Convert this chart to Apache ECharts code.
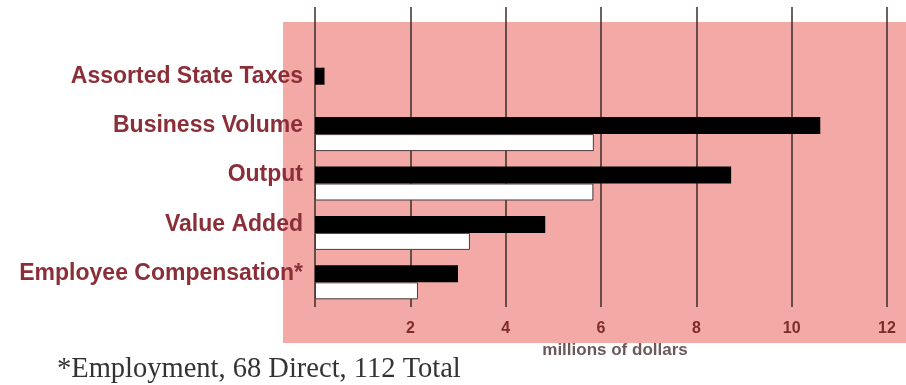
<!DOCTYPE html>
<html>
<head>
<meta charset="utf-8">
<script src="https://cdn.jsdelivr.net/npm/echarts@6/dist/echarts.min.js"></script>
<style>
  html, body { margin: 0; padding: 0; background: #ffffff; }
  #chart { width: 906px; height: 385px; }
</style>
</head>
<body>
<div id="chart"></div>
<script>
// categories, top to bottom
const categories = ['Assorted State Taxes', 'Business Volume', 'Output', 'Value Added', 'Employee Compensation*']
// millions of dollars
const totalValues = [0.2, 10.6, 8.73, 4.83, 3.0]
const directValues = [null, 5.85, 5.84, 3.25, 2.16]
// value axis ticks
const axisMin = 0
const axisMax = 12
const axisStep = 2
const axisName = 'millions of dollars'
const footnote = '*Employment, 68 Direct, 112 Total'

const chart = echarts.init(document.getElementById('chart'))

const gridLine = { show: true, lineStyle: { color: '#3b2b2b', width: 1.5 } }

const option = {
  animation: false,
  backgroundColor: '#ffffff',
  title: {
    text: footnote,
    left: 52,
    top: 350,
    textStyle: {
      fontFamily: 'Liberation Serif',
      fontWeight: 'normal',
      fontSize: 28.5,
      color: '#333333'
    }
  },
  graphic: [
    {
      type: 'rect',
      left: 283,
      top: 22,
      z: -100,
      shape: { width: 623, height: 321 },
      style: { fill: '#f3aaa7' },
      silent: true
    }
  ],
  grid: [
    { left: 315, right: 19, top: 60, bottom: 78 },
    // gridlines continue above the pink panel
    { left: 315, right: 19, top: 7, height: 53 }
  ],
  xAxis: [
    {
      type: 'value',
      gridIndex: 0,
      min: axisMin,
      max: axisMax,
      interval: axisStep,
      axisLine: { show: false },
      axisTick: { show: false },
      splitLine: gridLine,
      axisLabel: {
        margin: 14,
        fontFamily: 'Liberation Sans',
        fontWeight: 'bold',
        fontSize: 16,
        color: '#7d2b2b',
        formatter: v => (v === 0 ? '' : String(v))
      },
      name: axisName,
      nameLocation: 'middle',
      nameGap: 35,
      nameTextStyle: {
        fontFamily: 'Liberation Sans',
        fontWeight: 'bold',
        fontSize: 17,
        color: '#6b5858',
        padding: [0, 0, 0, 28]
      }
    },
    {
      type: 'value',
      gridIndex: 1,
      min: axisMin,
      max: axisMax,
      interval: axisStep,
      axisLine: { show: false },
      axisTick: { show: false },
      axisLabel: { show: false },
      splitLine: gridLine
    }
  ],
  yAxis: [
    {
      type: 'category',
      gridIndex: 0,
      data: categories,
      inverse: true,
      axisLine: { show: false },
      axisTick: { show: false },
      axisLabel: {
        margin: 12,
        fontFamily: 'Liberation Sans',
        fontWeight: 'bold',
        fontSize: 23,
        color: '#8b2e38',
        verticalAlign: 'bottom',
        lineHeight: 17
      }
    },
    {
      type: 'category',
      gridIndex: 1,
      data: [''],
      show: false
    }
  ],
  series: [
    {
      name: 'Total',
      type: 'bar',
      data: totalValues,
      barWidth: 17,
      barGap: '0%',
      itemStyle: { color: '#000000' }
    },
    {
      name: 'Direct',
      type: 'bar',
      data: directValues,
      barWidth: 17,
      itemStyle: { color: '#ffffff', borderColor: '#4a3a3a', borderWidth: 1 }
    }
  ]
}

chart.setOption(option)
</script>
</body>
</html>
